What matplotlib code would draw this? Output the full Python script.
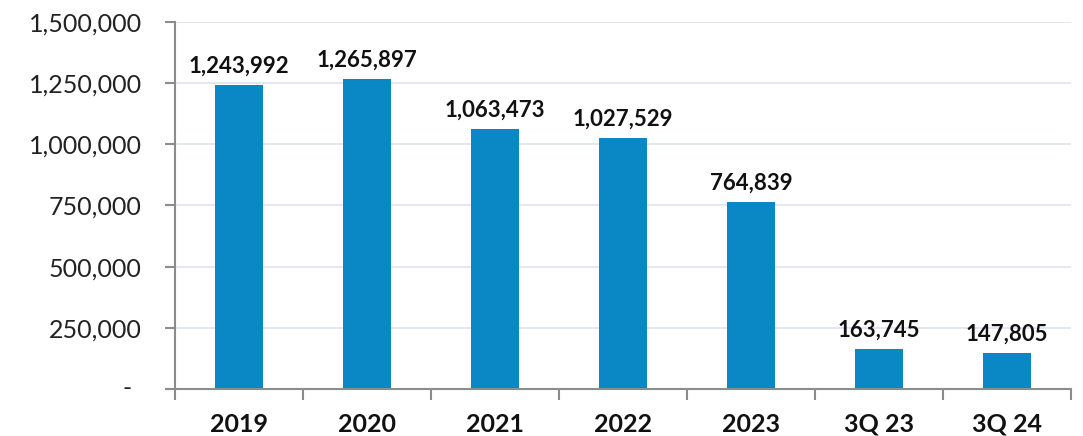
import matplotlib
matplotlib.use("Agg")
import matplotlib.pyplot as plt
from matplotlib.ticker import FuncFormatter, MultipleLocator, FixedLocator
from matplotlib.transforms import ScaledTranslation

categories = ["2019", "2020", "2021", "2022", "2023", "3Q 23", "3Q 24"]
values = [1243992, 1265897, 1063473, 1027529, 764839, 163745, 147805]

bar_color = "#0A87C5"
axis_color = "#8C8C8C"
grid_color = "#DDE3EE"

plt.rcParams["font.family"] = ["Lato", "DejaVu Sans"]

fig = plt.figure(figsize=(10.83, 4.36), dpi=100)
ax = fig.add_axes([0.1616, 0.108, 0.8274, 0.8415])

x = list(range(len(categories)))
ax.bar(x, values, width=0.37, color=bar_color, zorder=3)

for xi, v in zip(x, values):
    ax.annotate(f"{v:,}", (xi, v), xytext=(0, 6), textcoords="offset points",
                ha="center", va="bottom", fontsize=16, fontweight="bold",
                color="#111111")

ax.set_xlim(-0.5, len(categories) - 0.5)
ax.set_ylim(0, 1500000)
ax.yaxis.set_major_locator(MultipleLocator(250000))
# zero gets its own accounting-style dash below
ax.yaxis.set_major_formatter(FuncFormatter(lambda v, p: "" if v == 0 else f"{v:,.0f}"))
ax.grid(axis="y", color=grid_color, linewidth=1.2, zorder=0)

dash_shift = ScaledTranslation(-0.48, 0, fig.dpi_scale_trans)
ax.text(0, 0, "-", transform=ax.get_yaxis_transform() + dash_shift,
        ha="center", va="center", fontsize=18, color="#222222")

# category labels without ticks; tick marks go between categories
ax.set_xticks(x)
ax.set_xticklabels(categories, fontsize=18, fontweight="bold", color="#111111")
ax.tick_params(axis="x", which="major", length=0, pad=17)
ax.xaxis.set_minor_locator(FixedLocator([i - 0.5 for i in range(len(categories) + 1)]))
ax.tick_params(axis="x", which="minor", length=8, width=1.5, color=axis_color, direction="out")

ax.tick_params(axis="y", length=7, width=1.5, color=axis_color, labelsize=18,
               pad=17, labelcolor="#222222")

for side in ("top", "right"):
    ax.spines[side].set_visible(False)
for side in ("left", "bottom"):
    ax.spines[side].set_color(axis_color)
    ax.spines[side].set_linewidth(1.5)
    ax.spines[side].set_zorder(4)

fig.savefig("out.png", dpi=100)
